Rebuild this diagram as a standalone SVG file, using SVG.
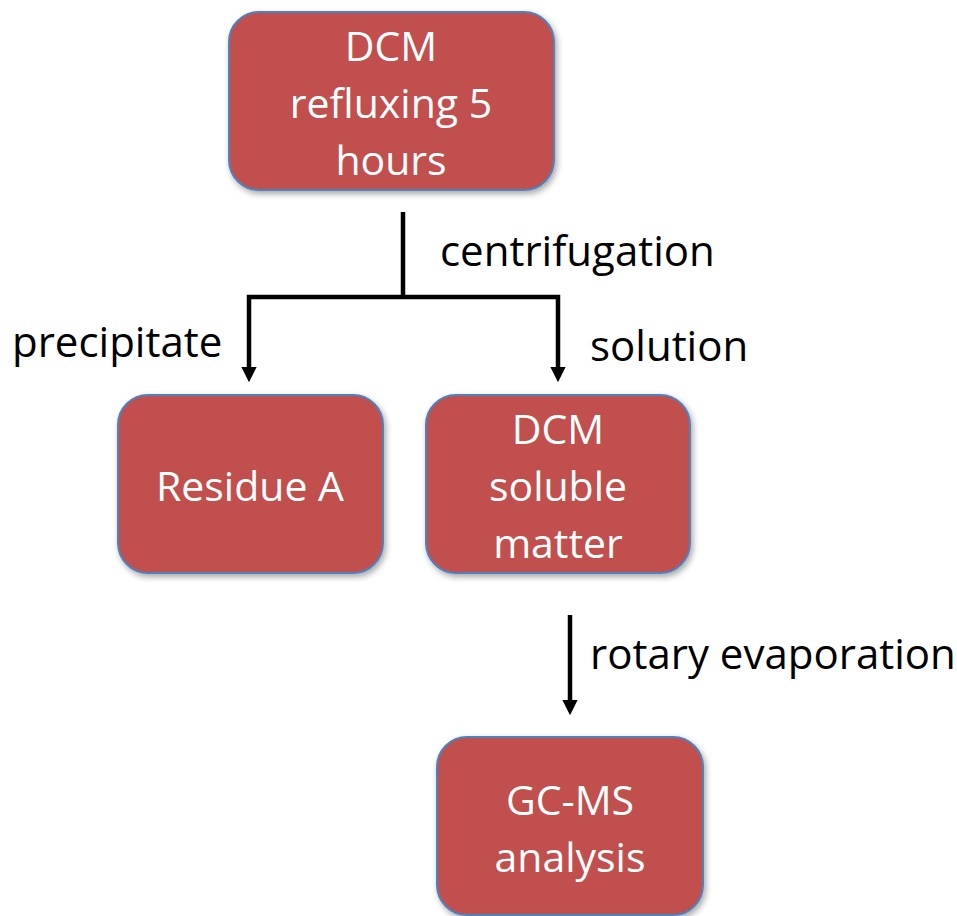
<svg xmlns="http://www.w3.org/2000/svg" width="957" height="916" viewBox="0 0 957 916">
<defs>
<filter id="sh" x="-10%" y="-10%" width="125%" height="125%">
<feDropShadow dx="2" dy="3" stdDeviation="3" flood-color="#000" flood-opacity="0.35"/>
</filter>
<marker id="ah" markerWidth="3.4" markerHeight="3.4" refX="0" refY="1.7" orient="auto-start-reverse" markerUnits="strokeWidth" viewBox="0 0 3.4 3.4">
<path d="M0,0 L3.4,1.7 L0,3.4 Z" fill="#000"/>
</marker>
<style>
.box{fill:#C0504D;stroke:#4F81BD;stroke-width:2;filter:url(#sh)}
.bt{font-family:"Open Sans","Noto Sans",sans-serif;font-size:41px;fill:#fff;text-anchor:middle}
.lb{font-family:"Open Sans","Noto Sans",sans-serif;font-size:42px;fill:#000}
.cn{fill:none;stroke:#000;stroke-width:4.5;stroke-linejoin:miter}
</style>
</defs>
<rect width="957" height="916" fill="#fff"/>
<g id="connectors">
<path class="cn" d="M403,212 V297"/>
<path class="cn" d="M249,367 V297 H558 V367" marker-start="url(#ah)" marker-end="url(#ah)"/>
<path class="cn" d="M570,615 V700" marker-end="url(#ah)"/>
</g>
<g id="n1"><rect class="box" x="229" y="12" width="325" height="178" rx="30"/>
<text class="bt" x="391" y="61">DCM</text><text class="bt" x="391" y="118">refluxing 5</text><text class="bt" x="391" y="175">hours</text></g>
<g id="n2"><rect class="box" x="118" y="395" width="265" height="178" rx="30"/>
<text class="bt" x="250" y="501">Residue A</text></g>
<g id="n3"><rect class="box" x="426" y="395" width="264" height="178" rx="30"/>
<text class="bt" x="558" y="444">DCM</text><text class="bt" x="558" y="501">soluble</text><text class="bt" x="558" y="558">matter</text></g>
<g id="n4"><rect class="box" x="437" y="737" width="266" height="178" rx="30"/>
<text class="bt" x="570" y="815">GC-MS</text><text class="bt" x="570" y="872">analysis</text></g>
<g id="labels">
<text class="lb" x="440" y="266">centrifugation</text>
<text class="lb" x="12" y="357">precipitate</text>
<text class="lb" x="590" y="361">solution</text>
<text class="lb" x="590" y="669">rotary evaporation</text>
</g>
</svg>
